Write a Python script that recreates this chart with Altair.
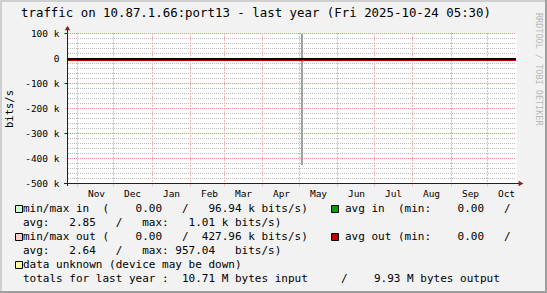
import altair as alt
import pandas as pd

# ---------------- data ----------------
TITLE = "traffic on 10.87.1.66:port13 - last year (Fri 2025-10-24 05:30)"
WATERMARK = "RRDTOOL / TOBI OETIKER"
Y_TITLE = "bits/s"

X_START = "2024-10-24T05:30:00Z"
X_END = "2025-10-24T05:30:00Z"
MONTH_STARTS = ["2024-11-01", "2024-12-01", "2025-01-01", "2025-02-01", "2025-03-01",
                "2025-04-01", "2025-05-01", "2025-06-01", "2025-07-01", "2025-08-01",
                "2025-09-01", "2025-10-01"]
Y_MIN, Y_MAX = -500000, 100000
Y_MAJOR_TICKS = [-500000, -400000, -300000, -200000, -100000, 0, 100000]
Y_TICK_LABELS = ["-500 k", "-400 k", "-300 k", "-200 k", "-100 k", "0", "100 k"]
Y_MINOR_TICKS = [v for v in range(-480000, 100000, 20000) if v % 100000 != 0]

# averages (bits/s, out drawn negative)
avg_time = ["2024-10-24T05:30:00Z", "2025-05-02T12:00:00Z", "2025-05-03T12:00:00Z",
            "2025-05-04T12:00:00Z", "2025-10-24T05:30:00Z"]
avg_in = [0, 0, 1010, 0, 0]
avg_out = [0, 0, -957, 0, 0]

# min/max spike
spike_time = ["2025-05-03T12:00:00Z"]
spike_in_max = [96940]
spike_out_min = [-427960]

LEGEND = {
    "l1a": " min/max in  (    0.00   /   96.94 k bits/s)",
    "l1b": "avg in  (min:    0.00   /",
    "l2": "avg:   2.85   /   max:   1.01 k bits/s)",
    "l3a": " min/max out (    0.00   /  427.96 k bits/s)",
    "l3b": "avg out (min:    0.00   /",
    "l4": "avg:   2.64   /   max: 957.04   bits/s)",
    "l5": " data unknown (device may be down)",
    "l6": " totals for last year :  10.71 M bytes input     /    9.93 M bytes output",
}

C_MINMAX_IN = "#ccffcc"
C_AVG_IN = "#00a000"
C_MINMAX_OUT = "#ffcccc"
C_AVG_OUT = "#c00000"
C_UNKNOWN = "#ffff99"
C_SPIKE = "#a0a0a0"
C_MGRID = "#de4f4f"
C_MGRID_V = "#f0b4b4"
C_GRID = "#8f8f8f"
C_AXIS = "#212121"
C_ARROW = "#802121"

# ---------------- layout ----------------
PL, PT, W, H = 67, 33, 449, 150
PR = 547 - PL - W
PB = 293 - PT - H
MONO = "DejaVu Sans Mono"


def ms(s):
    return int(pd.Timestamp(s).value // 10**6)


def nb(s):
    return s.replace(" ", "\u00a0")


month_ms = [ms(m + "T00:00:00Z") for m in MONTH_STARTS]
xscale = alt.Scale(type="utc", domain=[ms(X_START), ms(X_END)], round=True)
yscale = alt.Scale(domain=[Y_MIN, Y_MAX], nice=False, zero=False)

avg_df = pd.DataFrame({"t": avg_time, "avg_in": avg_in, "avg_out": avg_out})
spike_df = pd.DataFrame({"t": spike_time, "hi": spike_in_max, "lo": spike_out_min})
month_df = pd.DataFrame({"t": [m + "T00:00:00Z" for m in MONTH_STARTS]})
ymaj_df = pd.DataFrame({"v": Y_MAJOR_TICKS, "label": Y_TICK_LABELS})
ymin_df = pd.DataFrame({"v": Y_MINOR_TICKS})
one = pd.DataFrame({"k": [0]})

x_axis = alt.Axis(
    values=month_ms, labelExpr="utcFormat(datum.value, '%b')", labelOffset=19,
    labelFlush=False, labelOverlap=False, grid=False, ticks=False,
    domainColor=C_AXIS, labelFont=MONO, labelFontSize=9.5,
    labelPadding=5, labelColor="black", title="", zindex=1,
)
y_axis = alt.Axis(
    values=Y_MAJOR_TICKS, labels=False, grid=False, tickSize=3, tickColor=C_AXIS,
    domainColor=C_AXIS, title="", zindex=1,
)

# grid layers
ygrid_minor = alt.Chart(ymin_df).mark_rule(color=C_GRID, opacity=0.6, strokeDash=[1, 1],
                                            yOffset=0.5).encode(
    y=alt.Y("v:Q", scale=yscale, axis=y_axis), x=alt.value(1), x2=alt.value(W))
ygrid_major = alt.Chart(ymaj_df).transform_filter(f"datum.v > {Y_MIN}").mark_rule(
    color=C_MGRID, opacity=0.6, strokeDash=[1, 1], yOffset=0.5).encode(
    y=alt.Y("v:Q", scale=yscale), x=alt.value(1), x2=alt.value(W))
xgrid = alt.Chart(month_df).mark_rule(color=C_MGRID_V, strokeWidth=1, strokeDash=[2, 1],
                                      xOffset=0.5).encode(
    x=alt.X("t:T", scale=xscale, axis=x_axis), y=alt.value(0), y2=alt.value(H + 4))
ylabels = alt.Chart(ymaj_df).mark_text(font=MONO, fontSize=9.5, align="right",
                                       baseline="middle", color="black", dy=0.5).encode(
    y=alt.Y("v:Q", scale=yscale), x=alt.value(-7.5), text="label:N")

spike = alt.Chart(spike_df).mark_rule(strokeWidth=2, color=C_SPIKE).encode(
    x=alt.X("t:T", scale=xscale), y=alt.Y("hi:Q", scale=yscale), y2="lo:Q")

avg_out_line = alt.Chart(avg_df).mark_line(color=C_AVG_OUT, strokeWidth=1, yOffset=2.5,
                                            interpolate="step-after").encode(
    x=alt.X("t:T", scale=xscale), y=alt.Y("avg_out:Q", scale=yscale))
avg_in_line = alt.Chart(avg_df).mark_line(color=C_AVG_IN, strokeWidth=1, yOffset=1,
                                           interpolate="step-after").encode(
    x=alt.X("t:T", scale=xscale), y=alt.Y("avg_in:Q", scale=yscale))
zero_rule = alt.Chart(one).transform_calculate(z="0").mark_rule(
    color="black", strokeWidth=2, yOffset=1).encode(
    y=alt.Y("z:Q", scale=yscale), x=alt.value(1), x2=alt.value(W))


def rect(x, y, x2, y2, color):
    return alt.Chart(one).mark_rect(color=color).encode(
        x=alt.value(x), x2=alt.value(x2), y=alt.value(y), y2=alt.value(y2))


def txt(s, x, y, size=11, color="black"):
    return alt.Chart(one).mark_text(font=MONO, fontSize=size, align="left",
                                    baseline="middle", color=color).encode(
        x=alt.value(x), y=alt.value(y), text=alt.value(nb(s)))


def box(x, y, color):
    return alt.Chart(one).mark_square(size=49, color=color, opacity=1, stroke="black",
                                      strokeWidth=1, filled=True).encode(
        x=alt.value(x), y=alt.value(y))


borders = [
    rect(-PL, -PT, 547 - PL, -PT + 2, "#cfcfcf"),
    rect(-PL, -PT, -PL + 2, 293 - PT, "#cfcfcf"),
    rect(-PL, 293 - PT - 2, 547 - PL, 293 - PT, "#9e9e9e"),
    rect(547 - PL - 2, -PT, 547 - PL, 293 - PT, "#9e9e9e"),
]

axis_ext = [
    alt.Chart(one).mark_rule(color=C_AXIS).encode(
        x=alt.value(0.5), y=alt.value(-4), y2=alt.value(0)),
    alt.Chart(one).mark_rule(color=C_AXIS).encode(
        x=alt.value(0.5), y=alt.value(H), y2=alt.value(H + 3)),
    alt.Chart(one).mark_rule(color=C_AXIS).encode(
        y=alt.value(H + 0.5), x=alt.value(-3), x2=alt.value(0)),
    alt.Chart(one).mark_rule(color=C_AXIS).encode(
        y=alt.value(H + 0.5), x=alt.value(W), x2=alt.value(W + 4)),
    alt.Chart(one).mark_point(shape="triangle-up", filled=True, size=30, color=C_ARROW,
                              opacity=1).encode(x=alt.value(0.5), y=alt.value(-5)),
    alt.Chart(one).mark_point(shape="triangle-right", filled=True, size=30, color=C_ARROW,
                              opacity=1).encode(x=alt.value(W + 5), y=alt.value(H + 0.5)),
]

texts = [
    txt(TITLE, 21 - PL, 13 - PT, size=12.4),
    alt.Chart(one).mark_text(font=MONO, fontSize=10.5, angle=270, align="center",
                             baseline="middle", color="black").encode(
        x=alt.value(10 - PL), y=alt.value(109 - PT), text=alt.value(Y_TITLE)),
    alt.Chart(one).mark_text(font=MONO, fontSize=8.5, angle=90, align="left",
                             baseline="middle", color="#b8b8b8").encode(
        x=alt.value(539 - PL), y=alt.value(13 - PT), text=alt.value(nb(WATERMARK))),
    txt(LEGEND["l1a"], 23 - PL, 209 - PT),
    txt(LEGEND["l1b"], 345 - PL, 209 - PT),
    txt(LEGEND["l2"], 23 - PL, 223 - PT),
    txt(LEGEND["l3a"], 23 - PL, 237 - PT),
    txt(LEGEND["l3b"], 345 - PL, 237 - PT),
    txt(LEGEND["l4"], 23 - PL, 251 - PT),
    txt(LEGEND["l5"], 23 - PL, 265 - PT),
    txt(LEGEND["l6"], 23 - PL, 279 - PT),
    box(19 - PL, 209 - PT, C_MINMAX_IN),
    box(335 - PL, 209 - PT, C_AVG_IN),
    box(19 - PL, 237 - PT, C_MINMAX_OUT),
    box(335 - PL, 237 - PT, C_AVG_OUT),
    box(19 - PL, 265 - PT, C_UNKNOWN),
]

chart = alt.layer(
    ygrid_minor, ygrid_major, xgrid, ylabels, spike, avg_in_line, zero_rule, avg_out_line,
    *axis_ext, *texts, *borders
).properties(
    width=W, height=H,
    autosize=alt.AutoSizeParams(type="none"),
    padding={"left": PL, "top": PT, "right": PR, "bottom": PB},
    background="#f2f2f2",
).configure_view(fill="white", strokeOpacity=0)

chart.save("out.html", embed_options={"renderer": "svg", "actions": False})
